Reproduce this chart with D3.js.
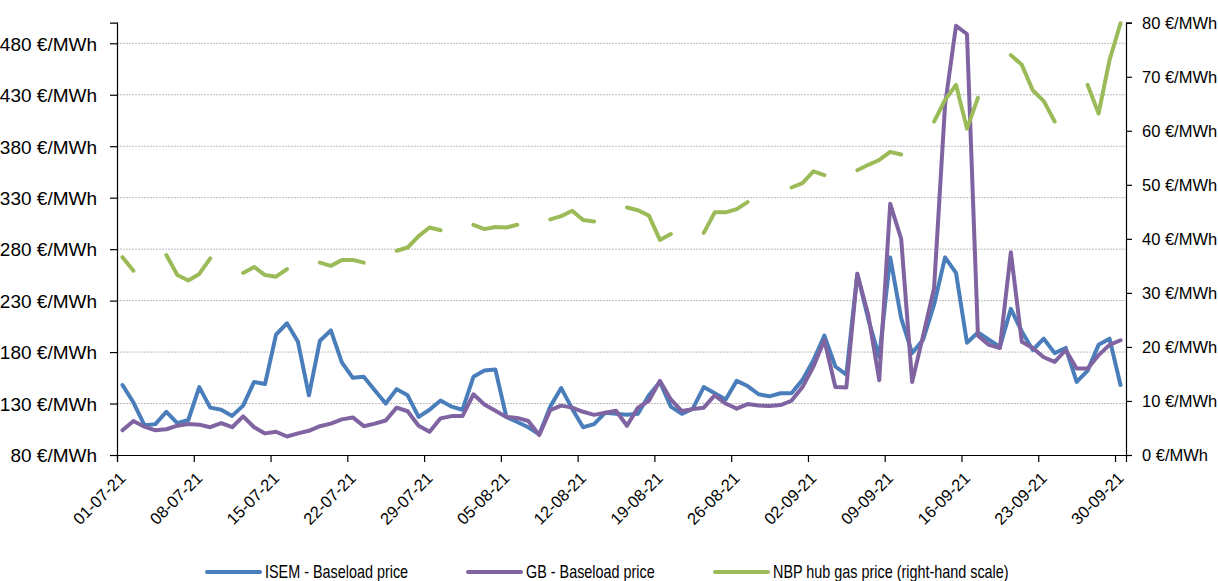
<!DOCTYPE html>
<html>
<head>
<meta charset="utf-8">
<script src="https://cdn.jsdelivr.net/npm/d3@7"></script>
<style>
  html, body { margin: 0; padding: 0; background: #fff; }
  svg { display: block; }
  text { font-family: 'Liberation Sans', Arial, sans-serif; fill: #000; }
</style>
</head>
<body>
<svg id="chart" width="1218" height="581"></svg>
<script>
// ---- Data ----
const startDate = "2021-07-01";
const dayCount = 92;

const isemPrice = [148,131,109,110,122,111,114,146,126,124,118,128,151,149,197,208,190,138,191,201,170,155,156,143,130,144,138,117,124,133,127,124,156,162,163,117,112,107,100,127,145,125,107,110,121,120,119,120,138,151,127,120,125,146,140,134,152,147,139,137,140,140,153,172,196,166,158,256,212,175,272,213,179,192,226,272,257,189,199,192,185,222,200,182,193,179,184,151,162,187,193,148];

const gbPrice = [104,113,107.5,104,105,108.5,110,109.5,107,111,107,117.5,107,101,102.6,98,101,103.5,108,110.5,114.6,116.5,108,110.5,113.5,126,122.5,108.5,102.5,115.6,117.8,117.8,139,129,123,117,116,113,99.4,123.6,128,126,122,119,121,123,108.4,126,132.7,152,134,122.7,124.6,126,138,130,125,129.5,128,127.6,128.5,132.7,146,166,191.5,146,145.6,256,216,152.7,324,290,151,196,242,420,497,489,196,187,184,277,190,184,175,170.5,182,164,164,177,187,191.5];

const gasPrice = [36.6,34.1,null,null,37.0,33.3,32.3,33.5,36.4,null,null,33.7,34.8,33.3,33.0,34.4,null,null,35.6,35.0,36.1,36.1,35.6,null,null,37.8,38.4,40.5,42.1,41.6,null,null,42.6,41.8,42.2,42.1,42.6,null,null,43.6,44.2,45.2,43.5,43.2,null,null,45.8,45.3,44.3,39.8,40.9,null,null,41.1,44.9,44.9,45.5,46.8,null,null,null,49.5,50.3,52.5,51.8,null,null,52.7,53.7,54.6,56.1,55.6,null,null,61.7,65.7,68.5,60.4,66.1,null,null,74.0,72.2,67.5,65.5,61.7,null,null,68.5,63.2,73.1,79.9];

const xTickLabels = ["01-07-21","08-07-21","15-07-21","22-07-21","29-07-21","05-08-21","12-08-21","19-08-21","26-08-21","02-09-21","09-09-21","16-09-21","23-09-21","30-09-21"];
const leftTicks = [80,130,180,230,280,330,380,430,480];
const rightTicks = [0,10,20,30,40,50,60,70,80];

const seriesNames = ["ISEM - Baseload price","GB - Baseload price","NBP hub gas price (right-hand scale)"];
const seriesColors = ["#4a7ebb","#8064a2","#9bbb59"];

// ---- Layout ----
const svg = d3.select("#chart");
const mLeft = 117, mRight = 1126, mTop = 22.7, mBottom = 455;

const parse = d3.utcParse("%Y-%m-%d");
const parseTick = d3.utcParse("%d-%m-%y");
const d0 = parse(startDate);
const dates = d3.utcDay.range(d0, d3.utcDay.offset(d0, dayCount));

const x = d3.scaleUtc()
  .domain([d0, d3.utcDay.offset(d0, dayCount)])
  .range([mLeft, mRight]);
const mid = d => d3.utcHour.offset(d, 12);

const yL = d3.scaleLinear().domain([80, 500]).range([mBottom, mTop]);
const yR = d3.scaleLinear().domain([0, 80]).range([mBottom, mTop]);

// gridlines
svg.append("g")
  .selectAll("line")
  .data(leftTicks.filter(v => v > 80))
  .join("line")
  .attr("x1", mLeft).attr("x2", mRight)
  .attr("y1", d => yL(d)).attr("y2", d => yL(d))
  .attr("stroke", "#bcbcbc")
  .attr("stroke-width", 1)
  .attr("stroke-dasharray", "2,1");

// axes
const fmtL = d => d + " €/MWh";
const axL = svg.append("g").attr("transform", `translate(${mLeft},0)`)
  .call(d3.axisLeft(yL).tickValues(leftTicks).tickFormat(fmtL).tickSize(7).tickPadding(13));
const axR = svg.append("g").attr("transform", `translate(${mRight},0)`)
  .call(d3.axisRight(yR).tickValues(rightTicks).tickFormat(fmtL).tickSize(6).tickPadding(10));
const axB = svg.append("g").attr("transform", `translate(0,${mBottom})`)
  .call(d3.axisBottom(x).tickValues(xTickLabels.map(parseTick)).tickFormat(d3.utcFormat("%d-%m-%y")).tickSize(7));

[axL, axR, axB].forEach(a => {
  a.select(".domain").attr("stroke", "#000").attr("stroke-width", 1.2);
  a.selectAll(".tick line").attr("stroke", "#000").attr("stroke-width", 1.2);
  a.selectAll("text").attr("fill", "#000");
});
axL.selectAll(".tick text").attr("font-size", 19).attr("dy", "0.36em");
axR.selectAll(".tick text").attr("font-size", 16.5).attr("dy", "0.36em");
axB.selectAll(".tick text")
  .attr("font-size", 16.5)
  .attr("text-anchor", "end")
  .attr("dy", "0.35em")
  .attr("transform", "translate(-2,13) rotate(-45)");

// lines
const lineL = d3.line().defined(d => d.v != null).x(d => x(mid(d.date))).y(d => yL(d.v));
const lineR = d3.line().defined(d => d.v != null).x(d => x(mid(d.date))).y(d => yR(d.v));

const series = [
  { vals: isemPrice, gen: lineL, color: seriesColors[0] },
  { vals: gbPrice, gen: lineL, color: seriesColors[1] },
  { vals: gasPrice, gen: lineR, color: seriesColors[2] }
];
series.forEach(s => {
  svg.append("path")
    .datum(dates.map((d, i) => ({ date: d, v: s.vals[i] })))
    .attr("fill", "none")
    .attr("stroke", s.color)
    .attr("stroke-width", 4)
    .attr("stroke-linejoin", "round")
    .attr("stroke-linecap", "round")
    .attr("d", s.gen);
});

// legend
const legendX = [207, 468, 715];
const legY = 572;
const lg = svg.append("g");
seriesNames.forEach((name, i) => {
  lg.append("line")
    .attr("x1", legendX[i]).attr("x2", legendX[i] + 53)
    .attr("y1", legY).attr("y2", legY)
    .attr("stroke", seriesColors[i]).attr("stroke-width", 4).attr("stroke-linecap", "round");
  lg.append("text")
    .attr("x", 0).attr("y", 0)
    .attr("transform", `translate(${legendX[i] + 58},${legY}) scale(0.8,1)`)
    .attr("dy", "0.36em")
    .attr("font-size", 18)
    .text(name);
});
</script>
</body>
</html>
